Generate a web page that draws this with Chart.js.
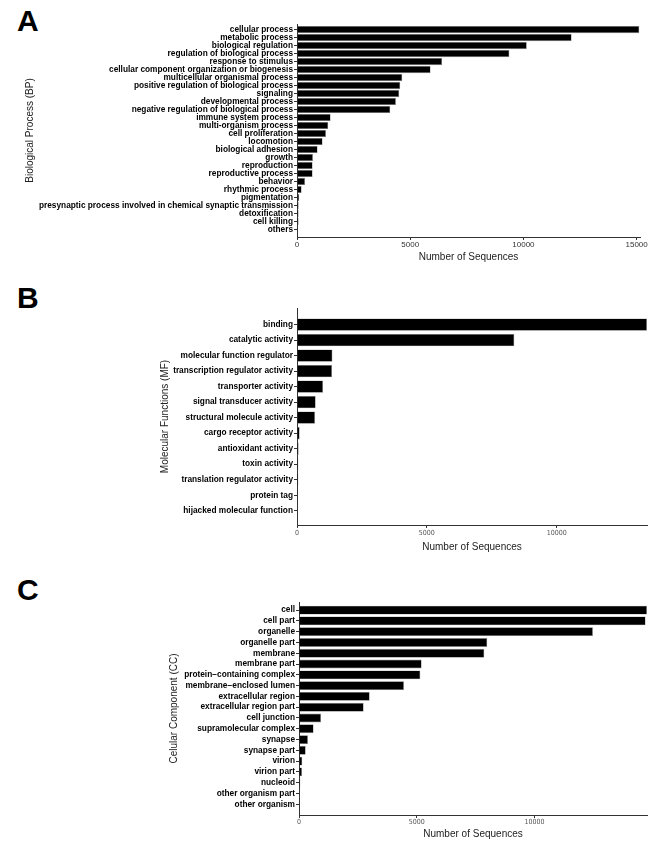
<!DOCTYPE html>
<html>
<head>
<meta charset="utf-8">
<script src="https://cdn.jsdelivr.net/npm/chart.js@4.4.1/dist/chart.umd.min.js"></script>
<style>
  html, body { margin: 0; padding: 0; background: #fff; width: 666px; height: 866px; overflow: hidden; }
  canvas { position: absolute; left: 0; }
  .tag { position: absolute; left: 17px; font: bold 30px 'Liberation Sans', Arial, sans-serif; line-height: 30px; color: #000; }
</style>
</head>
<body>
<div class="tag" style="top:6px">A</div>
<div class="tag" style="top:283px">B</div>
<div class="tag" style="top:575px">C</div>
<canvas id="bp" width="666" height="270" style="top:0px"></canvas>
<canvas id="mf" width="666" height="275" style="top:285px"></canvas>
<canvas id="cc" width="666" height="291" style="top:575px"></canvas>
<script>
// Biological Process
const bpLabels = [
  'cellular process', 'metabolic process', 'biological regulation',
  'regulation of biological process', 'response to stimulus',
  'cellular component organization or biogenesis', 'multicellular organismal process',
  'positive regulation of biological process', 'signaling', 'developmental process',
  'negative regulation of biological process', 'immune system process',
  'multi-organism process', 'cell proliferation', 'locomotion', 'biological adhesion',
  'growth', 'reproduction', 'reproductive process', 'behavior', 'rhythmic process',
  'pigmentation', 'presynaptic process involved in chemical synaptic transmission',
  'detoxification', 'cell killing', 'others'
]
const bpValues = [15120, 12130, 10150, 9380, 6410, 5900, 4650, 4560, 4515, 4370,
  4120, 1485, 1380, 1280, 1130, 910, 705, 690, 690, 355, 205, 100, 75, 72, 72, 15]
const bpTicks = [0, 5000, 10000, 15000]

// Molecular Functions
const mfLabels = [
  'binding', 'catalytic activity', 'molecular function regulator',
  'transcription regulator activity', 'transporter activity', 'signal transducer activity',
  'structural molecule activity', 'cargo receptor activity', 'antioxidant activity',
  'toxin activity', 'translation regulator activity', 'protein tag', 'hijacked molecular function'
]
const mfValues = [13480, 8370, 1365, 1350, 1005, 720, 695, 103, 64, 51, 51, 13, 3]
const mfTicks = [0, 5000, 10000]

// Cellular Component
const ccLabels = [
  'cell', 'cell part', 'organelle', 'organelle part', 'membrane', 'membrane part',
  'protein\u2212containing complex', 'membrane\u2212enclosed lumen', 'extracellular region',
  'extracellular region part', 'cell junction', 'supramolecular complex', 'synapse',
  'synapse part', 'virion', 'virion part', 'nucleoid', 'other organism part', 'other organism'
]
const ccValues = [14770, 14710, 12475, 7990, 7865, 5205, 5150, 4455, 3000, 2745,
  935, 620, 380, 285, 140, 128, 57, 42, 40]
const ccTicks = [0, 5000, 10000]

const family = "'Liberation Sans', Arial, sans-serif"
const narrow = "'Liberation Sans Narrow', 'DejaVu Sans Condensed', 'Liberation Sans', sans-serif"

function drawPanel(id, labels, values, ticks, opt) {
  return new Chart(document.getElementById(id), {
    type: 'bar',
    data: {
      datasets: [{
        data: values.map((v, i) => ({ x: v, y: i })),
        backgroundColor: '#000',
        borderColor: '#8c8c8c',
        borderWidth: 0.6,
        barPercentage: opt.bar,
        categoryPercentage: 1
      }]
    },
    options: {
      indexAxis: 'y',
      responsive: false,
      animation: false,
      layout: { padding: { top: opt.top, right: opt.right, left: 0, bottom: 0 } },
      plugins: { legend: { display: false }, tooltip: { enabled: false } },
      scales: {
        y: {
          type: 'linear',
          bounds: 'data',
          offset: false,
          reverse: true,
          min: -opt.padTop,
          max: labels.length - 1 + opt.padBottom,
          afterBuildTicks: s => { s.ticks = labels.map((_, i) => ({ value: i })) },
          afterFit: s => { s.width = opt.left; s.paddingTop = 0; s.paddingBottom = 0 },
          ticks: {
            autoSkip: false,
            padding: 1,
            color: '#000',
            font: { family, size: 8.3, weight: 'bold' },
            callback: v => labels[v]
          },
          grid: { offset: false, drawOnChartArea: false, tickLength: 3, color: '#333', lineWidth: 1 },
          border: { color: '#333', width: 1 },
          title: {
            display: true, text: opt.yTitle, color: '#222',
            font: { family, size: 10 }, padding: { top: opt.yTitlePad, bottom: 0 }
          }
        },
        x: {
          type: 'linear',
          bounds: 'data',
          offset: false,
          min: 0,
          max: opt.xMax,
          afterBuildTicks: s => { s.ticks = ticks.map(v => ({ value: v })) },
          afterFit: s => { s.height = opt.xHeight; s.paddingLeft = 0; s.paddingRight = 0 },
          ticks: {
            autoSkip: false,
            maxRotation: 0,
            padding: opt.xTickPad,
            color: opt.xTickColor,
            font: opt.xTickFont,
            callback: v => String(v)
          },
          grid: { offset: false, drawOnChartArea: false, tickLength: 3, color: '#333', lineWidth: 1 },
          border: { color: '#333', width: 1 },
          title: {
            display: true, text: 'Number of Sequences', color: '#222',
            font: { family, size: 10 }, padding: { top: 0, bottom: opt.xTitlePad }
          }
        }
      }
    }
  })
}

drawPanel('bp', bpLabels, bpValues, bpTicks, {
  top: 24, right: 26, left: 297, xHeight: 33, xMax: 15150,
  padTop: 0.7, padBottom: 0.95, bar: 0.9,
  yTitle: 'Biological Process (BP)', yTitlePad: 24, xTitlePad: 7,
  xTickPad: 0, xTickColor: '#333', xTickFont: { family, size: 8 }
})

drawPanel('mf', mfLabels, mfValues, mfTicks, {
  top: 23, right: 19, left: 297, xHeight: 35, xMax: 13480,
  padTop: 1.07, padBottom: 0.92, bar: 0.8,
  yTitle: 'Molecular Functions (MF)', yTitlePad: 159, xTitlePad: 7,
  xTickPad: 1, xTickColor: '#555', xTickFont: { family: narrow, size: 7 }
})

drawPanel('cc', ccLabels, ccValues, ccTicks, {
  top: 27, right: 19, left: 299, xHeight: 51, xMax: 14770,
  padTop: 0.75, padBottom: 0.99, bar: 0.82,
  yTitle: 'Celular Component (CC)', yTitlePad: 168, xTitlePad: 26,
  xTickPad: 0, xTickColor: '#555', xTickFont: { family: narrow, size: 7 }
})
</script>
</body>
</html>
